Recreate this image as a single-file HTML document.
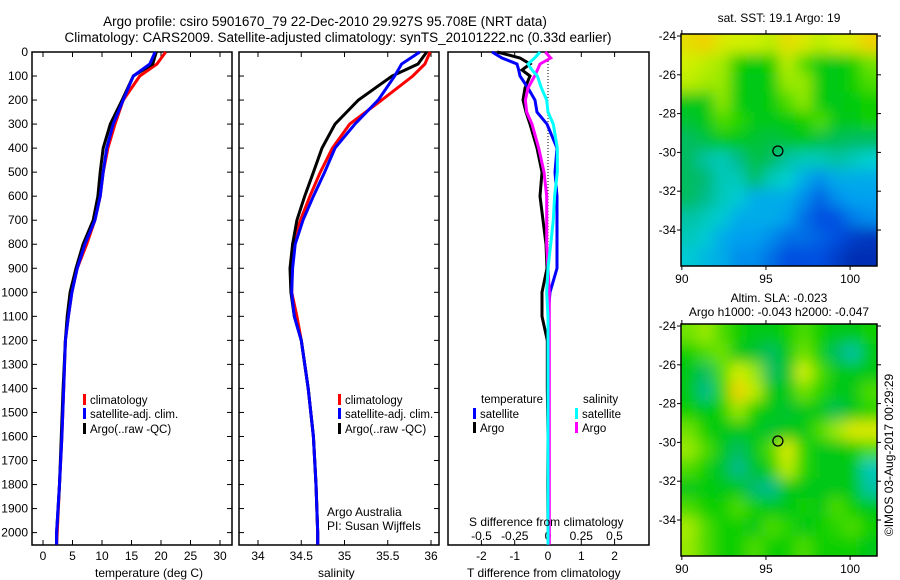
<!DOCTYPE html>
<html><head><meta charset="utf-8"><style>
body{margin:0;background:#fff;}
svg{display:block;font-family:"Liberation Sans",sans-serif;}
</style></head><body>
<svg id="fig" width="900" height="580" xmlns="http://www.w3.org/2000/svg">
<text x="325" y="26" font-size="13.5" text-anchor="middle">Argo profile: csiro 5901670_79 22-Dec-2010 29.927S 95.708E (NRT data)</text>
<text x="338" y="42" font-size="13.5" text-anchor="middle">Climatology: CARS2009. Satellite-adjusted climatology: synTS_20101222.nc (0.33d earlier)</text>
<g id="g"></g>
<text x="95" y="577" font-size="12">temperature (deg C)</text>
<text x="318" y="577" font-size="12">salinity</text>
<text x="467" y="577" font-size="12">T difference from climatology</text>
<text x="469" y="526" font-size="12">S difference from climatology</text>
<text x="327" y="516" font-size="12">Argo Australia</text>
<text x="327" y="530" font-size="12">PI: Susan Wijffels</text>
<text x="779" y="22" font-size="12" text-anchor="middle">sat. SST: 19.1 Argo: 19</text>
<text x="779" y="302" font-size="12" text-anchor="middle">Altim. SLA: -0.023</text>
<text x="779" y="316" font-size="12" text-anchor="middle">Argo h1000: -0.043 h2000: -0.047</text>
<text transform="translate(893,455) rotate(-90)" font-size="12" text-anchor="middle">©IMOS 03-Aug-2017 00:29:29</text>
</svg>
<script>
const depths=[0,50,100,200,300,400,500,600,700,800,900,1000,1100,1200,1400,1600,1800,2000,2050];
const tempClim=[20.8,19.3,16.4,13.6,12.2,11.0,10.2,9.7,8.8,7.4,5.8,4.9,4.3,3.8,3.5,3.2,2.8,2.4,2.3];
const tempSat=[19.0,18.1,15.3,13.6,11.9,10.8,10.2,9.7,8.8,7.1,5.8,4.9,4.3,3.8,3.5,3.2,2.8,2.3,2.3];
const tempArgo=[19.2,18.6,15.3,13.4,11.4,10.2,9.7,9.3,8.5,6.8,5.6,4.6,4.1,3.8,3.4,3.1,2.8,2.3,2.3];
const salClim=[35.99,35.93,35.79,35.43,35.06,34.86,34.72,34.60,34.49,34.40,34.39,34.39,34.45,34.5,34.58,34.64,34.67,34.69,34.69];
const salSat=[35.87,35.66,35.58,35.39,35.12,34.89,34.77,34.64,34.52,34.43,34.40,34.39,34.42,34.5,34.58,34.64,34.67,34.69,34.69];
const salArgo=[35.95,35.85,35.55,35.16,34.89,34.74,34.64,34.54,34.45,34.40,34.37,34.38,34.42,34.5,34.58,34.64,34.67,34.69,34.69];
const diffDepths=[0,25,50,75,100,150,200,250,300,400,500,600,700,800,900,1000,1100,1200,1400,1600,1800,2000,2050];
const dTsat=[-1.68,-1.38,-0.93,-0.88,-0.84,-0.6,-0.39,-0.33,-0.03,0.27,0.21,0.27,0.27,0.27,0.27,0.06,0,0,0,0,0,0,0];
const dTargo=[-1.53,-0.84,-0.54,-0.78,-0.54,-0.69,-0.75,-0.66,-0.54,-0.33,-0.18,-0.24,-0.15,-0.06,-0.03,-0.18,-0.18,-0.02,-0.02,0,-0.01,0,0];
const dSsat=[-0.06,-0.1,-0.15,-0.12,-0.08,-0.05,-0.01,0,0.04,0.07,0.07,0.05,0.04,0.02,0,-0.01,0,0,0,0,0,0,0];
const dSargo=[-0.02,0.02,-0.06,-0.08,-0.1,-0.15,-0.17,-0.16,-0.12,-0.07,-0.03,-0.01,-0.01,-0.01,0,0.01,0.01,0.01,0.01,0.01,0.01,0.01,0.01];
const depthTicks=[0,100,200,300,400,500,600,700,800,900,1000,1100,1200,1300,1400,1500,1600,1700,1800,1900,2000];
const tempTicks=[0,5,10,15,20,25,30];
const salTicks=[34,34.5,35,35.5,36];
const tdTicks=[-2,-1,0,1,2];
const sdTicks=[-0.5,-0.25,0,0.25,0.5];
const latTicks=[-24,-26,-28,-30,-32,-34];
const lonTicks=[90,95,100];
const sstGrid=[
[0.75,0.78,0.72,0.7,0.7,0.68,0.75,0.72,0.68,0.7,0.72,0.78],
[0.7,0.68,0.66,0.55,0.52,0.55,0.68,0.6,0.52,0.5,0.55,0.62],
[0.68,0.66,0.65,0.52,0.5,0.52,0.65,0.65,0.52,0.5,0.55,0.6],
[0.5,0.5,0.64,0.52,0.5,0.52,0.6,0.64,0.52,0.5,0.52,0.55],
[0.48,0.5,0.6,0.58,0.5,0.5,0.52,0.55,0.6,0.5,0.5,0.55],
[0.45,0.47,0.5,0.5,0.48,0.47,0.48,0.5,0.47,0.46,0.45,0.45],
[0.45,0.4,0.38,0.42,0.47,0.45,0.4,0.38,0.38,0.4,0.38,0.36],
[0.45,0.44,0.38,0.38,0.45,0.38,0.36,0.3,0.25,0.3,0.3,0.3],
[0.45,0.42,0.38,0.35,0.3,0.3,0.3,0.25,0.18,0.25,0.28,0.28],
[0.4,0.38,0.35,0.3,0.3,0.3,0.28,0.2,0.15,0.15,0.22,0.25],
[0.38,0.35,0.3,0.28,0.28,0.25,0.2,0.2,0.18,0.15,0.1,0.08],
[0.35,0.32,0.3,0.25,0.25,0.2,0.15,0.15,0.15,0.1,0.05,0.05]];
const slaGrid=[
[0.62,0.65,0.6,0.55,0.5,0.5,0.55,0.6,0.55,0.5,0.5,0.55],
[0.55,0.6,0.62,0.5,0.48,0.45,0.5,0.62,0.55,0.45,0.4,0.5],
[0.5,0.45,0.6,0.7,0.65,0.45,0.48,0.7,0.6,0.5,0.5,0.5],
[0.5,0.42,0.58,0.78,0.68,0.5,0.5,0.62,0.58,0.5,0.5,0.6],
[0.55,0.5,0.55,0.65,0.55,0.5,0.48,0.5,0.5,0.46,0.5,0.58],
[0.62,0.55,0.5,0.5,0.5,0.48,0.5,0.5,0.6,0.65,0.72,0.72],
[0.65,0.6,0.5,0.45,0.5,0.6,0.72,0.58,0.5,0.5,0.55,0.6],
[0.6,0.55,0.48,0.42,0.48,0.55,0.68,0.58,0.5,0.5,0.5,0.38],
[0.5,0.52,0.5,0.5,0.44,0.42,0.5,0.5,0.5,0.5,0.5,0.4],
[0.6,0.55,0.55,0.6,0.55,0.5,0.5,0.55,0.5,0.6,0.55,0.5],
[0.66,0.6,0.55,0.55,0.5,0.6,0.58,0.5,0.55,0.58,0.6,0.55],
[0.65,0.6,0.55,0.55,0.6,0.55,0.55,0.6,0.55,0.55,0.55,0.5]];
const floatLon=95.708, floatLat=-29.927;

const NS='http://www.w3.org/2000/svg';
const G=document.getElementById('g');
function el(t,a,p){const e=document.createElementNS(NS,t);for(const k in a)e.setAttribute(k,a[k]);(p||G).appendChild(e);return e;}
const yD=d=>52+0.2403*d;
const xT=t=>43+5.9*t;
const xS=s=>258+86.5*(s-34);
const xdT=t=>548+33.3*t;
const xdS=s=>548+133*s;
const panels=[[32,232],[239,439],[448,649]];
panels.forEach((p,i)=>{
  const r=el('rect',{x:p[0],y:52,width:p[1]-p[0],height:493,fill:'none',stroke:'#000','stroke-width':1.5});
  
  
  depthTicks.forEach(d=>{
    if(i<2){el('line',{x1:p[0],x2:p[0]+5,y1:yD(d),y2:yD(d),stroke:'#000'});el('line',{x1:p[1],x2:p[1]-5,y1:yD(d),y2:yD(d),stroke:'#000'});}
  });
});
depthTicks.forEach(d=>{
  const t=el('text',{x:28,y:yD(d)+4,'font-size':12,'text-anchor':'end'});t.textContent=d;
  
  
});
function xticks(vals,fx,y,lab,top){vals.forEach(v=>{const x=fx(v);
  el('line',{x1:x,x2:x,y1:545,y2:540,stroke:'#000'});if(top)el('line',{x1:x,x2:x,y1:52,y2:57,stroke:'#000'});
  const t=el('text',{x:x,y:y,'font-size':12,'text-anchor':'middle'});t.textContent=lab?lab(v):v;
  
  });}
xticks(tempTicks,xT,560,null,true);
xticks(salTicks,xS,560,null,true);
xticks(tdTicks,xdT,560,null,true);
sdTicks.forEach(v=>{const t=el('text',{x:xdS(v),y:540,'font-size':12,'text-anchor':'middle'});t.textContent=v;
  
  });
el('line',{x1:548,x2:548,y1:52,y2:545,stroke:'#000','stroke-dasharray':'1,2'});
function line(ds,vals,fx,col,name){
  const pts=vals.map((v,i)=>fx(v).toFixed(1)+','+yD(Math.min(ds[i],2052)).toFixed(1)).join(' ');
  const l=el('polyline',{points:pts,fill:'none',stroke:col,'stroke-width':3,'stroke-linejoin':'miter'});
  
  
}
line(depths,tempClim,xT,'#f00','temp-climatology-line');
line(depths,tempArgo,xT,'#000','temp-argo-line');
line(depths,tempSat,xT,'#00f','temp-satellite-line');
line(depths,salClim,xS,'#f00','sal-climatology-line');
line(depths,salArgo,xS,'#000','sal-argo-line');
line(depths,salSat,xS,'#00f','sal-satellite-line');
line(diffDepths,dTargo,xdT,'#000','dT-argo-line');
line(diffDepths,dTsat,xdT,'#00f','dT-satellite-line');
line(diffDepths,dSargo,xdS,'#f0f','dS-argo-line');
line(diffDepths,dSsat,xdS,'#0ff','dS-satellite-line');
function legend(x,y,col,txt,name){
  el('rect',{x:x,y:y-9,width:3,height:11,fill:col});
  const t=el('text',{x:x+7,y:y+1,'font-size':11.5});t.textContent=txt;
  
  
}
legend(83,403,'#f00','climatology','legend-climatology');
legend(83,417,'#00f','satellite-adj. clim.','legend-satellite');
legend(83,432,'#000','Argo(..raw -QC)','legend-argo');
legend(338,403,'#f00','climatology','legend2-climatology');
legend(338,417,'#00f','satellite-adj. clim.','legend2-satellite');
legend(338,432,'#000','Argo(..raw -QC)','legend2-argo');
(function(){const t=el('text',{x:481,y:403,'font-size':11.5});t.textContent='temperature';

const s=el('text',{x:583,y:403,'font-size':11.5});s.textContent='salinity';
})();
legend(473,417,'#00f','satellite','legend-t-satellite');
legend(473,431,'#000','Argo','legend-t-argo');
legend(575,417,'#0ff','satellite','legend-s-satellite');
legend(575,431,'#f0f','Argo','legend-s-argo');

const stops=[[0,[0,31,158]],[0.15,[0,80,224]],[0.28,[0,160,240]],[0.36,[0,208,208]],[0.43,[0,184,128]],[0.5,[0,200,20]],[0.57,[20,210,0]],[0.63,[130,230,0]],[0.7,[210,240,0]],[0.78,[240,210,0]],[0.86,[240,180,0]],[1,[240,120,0]]];
function cmap(v){for(let i=1;i<stops.length;i++){if(v<=stops[i][0]){const a=stops[i-1],b=stops[i],f=(v-a[0])/(b[0]-a[0]);
 return 'rgb('+a[1].map((c,k)=>Math.round(c+(b[1][k]-c)*f)).join(',')+')';}}return 'rgb(240,120,0)';}
function map(grid,top,name,id){
  const x0=681,x1=877,lonL=89.95,lonR=101.6,y1=top+232;
  const fx=lon=>x0+(lon-lonL)*(x1-x0)/(lonR-lonL);
  const fy=lat=>top+2+(-24-lat)*19.4;
  const cp=el('clipPath',{id:'c'+id});el('rect',{x:x0,y:top,width:x1-x0,height:232},cp);
  const outer=el('g',{'clip-path':'url(#c'+id+')'});
  const f=el('filter',{id:'f'+id,x:'-20%',y:'-20%',width:'140%',height:'140%'});el('feGaussianBlur',{stdDeviation:7},f);
  const gg=el('g',{filter:'url(#f'+id+')'},outer);
  const nr=grid.length,nc=grid[0].length,cw=(x1-x0)/nc,ch=232/nr;
  grid.forEach((row,r)=>row.forEach((v,c)=>{
    let x=x0+c*cw,y=top+r*ch,w=cw+0.5,h=ch+0.5;
    if(c==0){x-=25;w+=25;} if(c==nc-1)w+=25; if(r==0){y-=25;h+=25;} if(r==nr-1)h+=25;
    const rc=el('rect',{x:x,y:y,width:w,height:h,fill:cmap(v)},gg);
    
    
  }));
  const fr=el('rect',{x:x0,y:top,width:x1-x0,height:232,fill:'none',stroke:'#000','stroke-width':1.5});
  
  
  latTicks.forEach(l=>{const y=fy(l);el('line',{x1:x0-4,x2:x0,y1:y,y2:y,stroke:'#000'});el('line',{x1:x1,x2:x1+4,y1:y,y2:y,stroke:'#000'});
    const t=el('text',{x:x0-5,y:y+4,'font-size':12,'text-anchor':'end'});t.textContent=l;
    });
  lonTicks.forEach(l=>{const x=fx(l);el('line',{x1:x,x2:x,y1:y1,y2:y1+4,stroke:'#000'});el('line',{x1:x,x2:x,y1:top-4,y2:top,stroke:'#000'});
    const t=el('text',{x:x,y:y1+17,'font-size':12,'text-anchor':'middle'});t.textContent=l;
    });
  const c=el('circle',{cx:fx(floatLon),cy:fy(floatLat),r:5,fill:'none',stroke:'#000','stroke-width':1.3});
  
  
}
map(sstGrid,34,'sst-map','1');
map(slaGrid,324,'sla-map','2');
</script>
</body></html>
